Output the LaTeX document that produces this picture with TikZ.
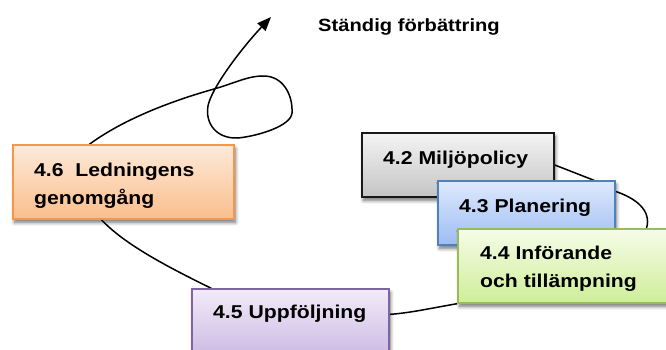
\documentclass[tikz,border=0pt]{standalone}
\usepackage{fontspec}
\setmainfont{Liberation Sans}[FakeStretch=1.14]
\usetikzlibrary{arrows.meta,shadows.blur,backgrounds,calc}

% Box palettes: border, top and bottom of the vertical gradient
\definecolor{orLine}{RGB}{247,150,70}
\definecolor{orTop}{RGB}{253,234,218}
\definecolor{orBot}{RGB}{250,190,140}
\definecolor{grLine}{RGB}{25,25,25}
\definecolor{grTop}{RGB}{244,244,244}
\definecolor{grBot}{RGB}{196,196,196}
\definecolor{blLine}{RGB}{79,129,189}
\definecolor{blTop}{RGB}{222,233,252}
\definecolor{blBot}{RGB}{158,188,244}
\definecolor{gnLine}{RGB}{155,187,89}
\definecolor{gnTop}{RGB}{246,252,232}
\definecolor{gnBot}{RGB}{206,238,152}
\definecolor{puLine}{RGB}{128,100,162}
\definecolor{puTop}{RGB}{242,235,248}
\definecolor{puBot}{RGB}{198,178,224}

\begin{document}
\begin{tikzpicture}[x=1pt,y=-1pt,
  box/.style={draw, line width=1.3pt, inner sep=0pt,
    blur shadow={shadow xshift=1.5pt, shadow yshift=-3.5pt,
      shadow blur radius=3.5pt, shadow blur steps=8, shadow opacity=55}},
  boxtext/.style={anchor=base west, inner sep=0pt, align=left,
    font=\fontsize{18.6}{27.5}\selectfont\bfseries},
  conn/.style={line width=1.5pt, black}]

\useasboundingbox (0,0) rectangle (666,350);

% Title
\node[anchor=base west, inner sep=0pt,
  font=\fontsize{17.7}{20}\selectfont\bfseries] (title) at (318,32)
  {Ständig förbättring};

% Process boxes (4.3 over 4.2, 4.4 over 4.3)
\node[box, draw=orLine, top color=orTop, bottom color=orBot,
  minimum width=221pt, minimum height=74pt] (b46) at (123.5,182) {};
\node[box, draw=grLine, top color=grTop, bottom color=grBot,
  minimum width=192pt, minimum height=64pt] (b42) at (458,165) {};
\node[box, draw=blLine, top color=blTop, bottom color=blBot,
  minimum width=177pt, minimum height=64pt] (b43) at (526.5,213) {};
\node[box, draw=gnLine, top color=gnTop, bottom color=gnBot,
  minimum width=210pt, minimum height=74pt] (b44) at (563,266) {};
\node[box, draw=puLine, top color=puTop, bottom color=puBot,
  minimum width=197pt, minimum height=78pt] (b45) at (290.5,328) {};

% Box labels (two-line labels are placed by their last baseline)
\node[boxtext] (t46) at (34,204) {4.6\ \ Ledningens\\genomgång};
\node[boxtext] (t42) at (383,164) {4.2 Miljöpolicy};
\node[boxtext] (t43) at (459,212) {4.3 Planering};
\node[boxtext] (t44) at (480,287) {4.4 Införande\\och tillämpning};
\node[boxtext] (t45) at (213,318) {4.5 Uppföljning};

\coordinate (tip) at (271,17);

% Connectors behind the boxes
\begin{scope}[on background layer]
  \draw[conn] (b42.east) .. controls (568,170) and (580,175) ..
    ($(b43.north west)!0.88!(b43.north east)$);
  \draw[conn] ($(b43.north east)!0.17!(b43.south east)$)
    .. controls (635,198) and (652,210) ..
    ($(b44.north west)!0.895!(b44.north east)$);
  \draw[conn] (b44.south west) .. controls (432,308) and (410,313) ..
    ([yshift=-26pt]b45.north east);
  \draw[conn] ([xshift=89pt]b46.south west) .. controls (125,245) and (170,268) ..
    ([xshift=20pt]b45.north west);
  % loop of continual improvement, leaving with an arrow
  \draw[conn, -{Triangle[length=14pt,width=11pt]}]
    ([xshift=77pt]b46.north west)
    .. controls (125,118) and (175,100) .. (214,89)
    .. controls (232,84) and (248,76) .. (262,76)
    .. controls (283,75) and (293,95) .. (292,113)
    .. controls (291,126) and (258,136) .. (238,138)
    .. controls (216,139) and (205,123) .. (208,106)
    .. controls (211,89) and (240,50) .. (tip);
\end{scope}
\end{tikzpicture}
\end{document}
